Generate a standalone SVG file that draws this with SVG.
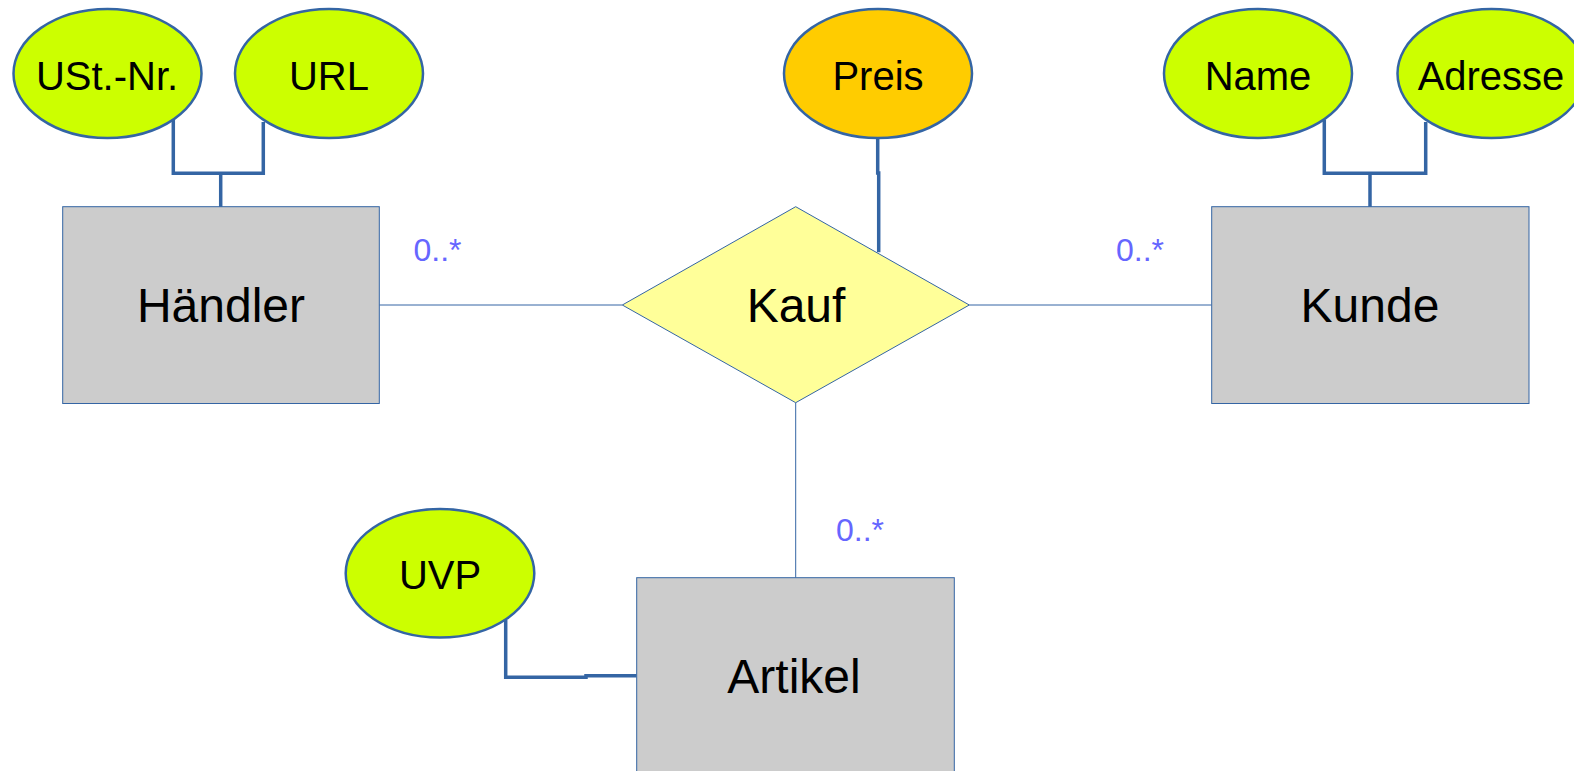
<svg xmlns="http://www.w3.org/2000/svg" width="1574" height="771" viewBox="0 0 1574 771">
<style>
.attr{fill:#ccff00;stroke:#3465a4;stroke-width:2.5}
.key{fill:#ffcc00;stroke:#3465a4;stroke-width:2.5}
.ent{fill:#cccccc;stroke:#3465a4;stroke-width:1}
.rel{fill:#ffff99;stroke:#3465a4;stroke-width:1}
.thick{fill:none;stroke:#3465a4;stroke-width:3.5}
.thin{fill:none;stroke:#3465a4;stroke-width:1}
text{font-family:"Liberation Sans",Arial,sans-serif;text-anchor:middle;fill:#000}
.t38{font-size:40px}
.t46{font-size:48px}
.card{font-size:32px;fill:#6666ff;text-anchor:start}
</style>
<rect width="1574" height="771" fill="#ffffff"/>
<g id="connectors">
<polyline class="thick" points="173.3,120 173.3,173.3 263.3,173.3 263.3,122"/>
<line class="thick" x1="220.7" y1="173.3" x2="220.7" y2="207"/>
<polyline class="thick" points="1324.3,120 1324.3,173.3 1425.7,173.3 1425.7,122"/>
<line class="thick" x1="1370" y1="173.3" x2="1370" y2="207"/>
<polyline class="thick" points="877.7,138 877.7,173 878.7,173 878.7,252.3"/>
<polyline class="thick" points="505.7,620 505.7,677.3 586,677.3 586,675.7 636.7,675.7"/>
<line class="thin" x1="379.3" y1="305" x2="622.3" y2="305"/>
<line class="thin" x1="969.3" y1="305" x2="1211.7" y2="305"/>
<line class="thin" x1="795.7" y1="402.7" x2="795.7" y2="577.7"/>
</g>
<g id="haendler">
<rect class="ent" x="62.7" y="206.7" width="316.6" height="196.8"/>
<text class="t46" x="221" y="322">Händler</text>
</g>
<g id="kunde">
<rect class="ent" x="1211.7" y="206.7" width="317.3" height="196.8"/>
<text class="t46" x="1370" y="322">Kunde</text>
</g>
<g id="artikel">
<rect class="ent" x="636.7" y="577.7" width="317.6" height="200"/>
<text class="t46" x="794" y="692.5">Artikel</text>
</g>
<g id="kauf">
<polygon class="rel" points="795.7,206.7 969.3,305 795.7,402.7 622.3,305"/>
<text class="t46" x="796" y="322">Kauf</text>
</g>
<g id="ustnr">
<ellipse class="attr" cx="107.5" cy="73.5" rx="94" ry="64.5"/>
<text class="t38" x="107" y="89.5">USt.-Nr.</text>
</g>
<g id="url">
<ellipse class="attr" cx="329" cy="73.5" rx="94" ry="64.5"/>
<text class="t38" x="329" y="89.5">URL</text>
</g>
<g id="preis">
<ellipse class="key" cx="878" cy="73.5" rx="94" ry="64.5"/>
<text class="t38" x="878" y="89.5">Preis</text>
</g>
<g id="name">
<ellipse class="attr" cx="1258" cy="73.5" rx="94" ry="64.5"/>
<text class="t38" x="1258" y="89.5">Name</text>
</g>
<g id="adresse">
<ellipse class="attr" cx="1491.5" cy="73.5" rx="94" ry="64.5"/>
<text class="t38" x="1491" y="89.5">Adresse</text>
</g>
<g id="uvp">
<ellipse class="attr" cx="440" cy="573.3" rx="94.3" ry="64.3"/>
<text class="t38" x="440" y="589">UVP</text>
</g>
<g id="cardinalities">
<text class="card" x="413.5" y="261">0..*</text>
<text class="card" x="836" y="541">0..*</text>
<text class="card" x="1116" y="261">0..*</text>
</g>
</svg>
